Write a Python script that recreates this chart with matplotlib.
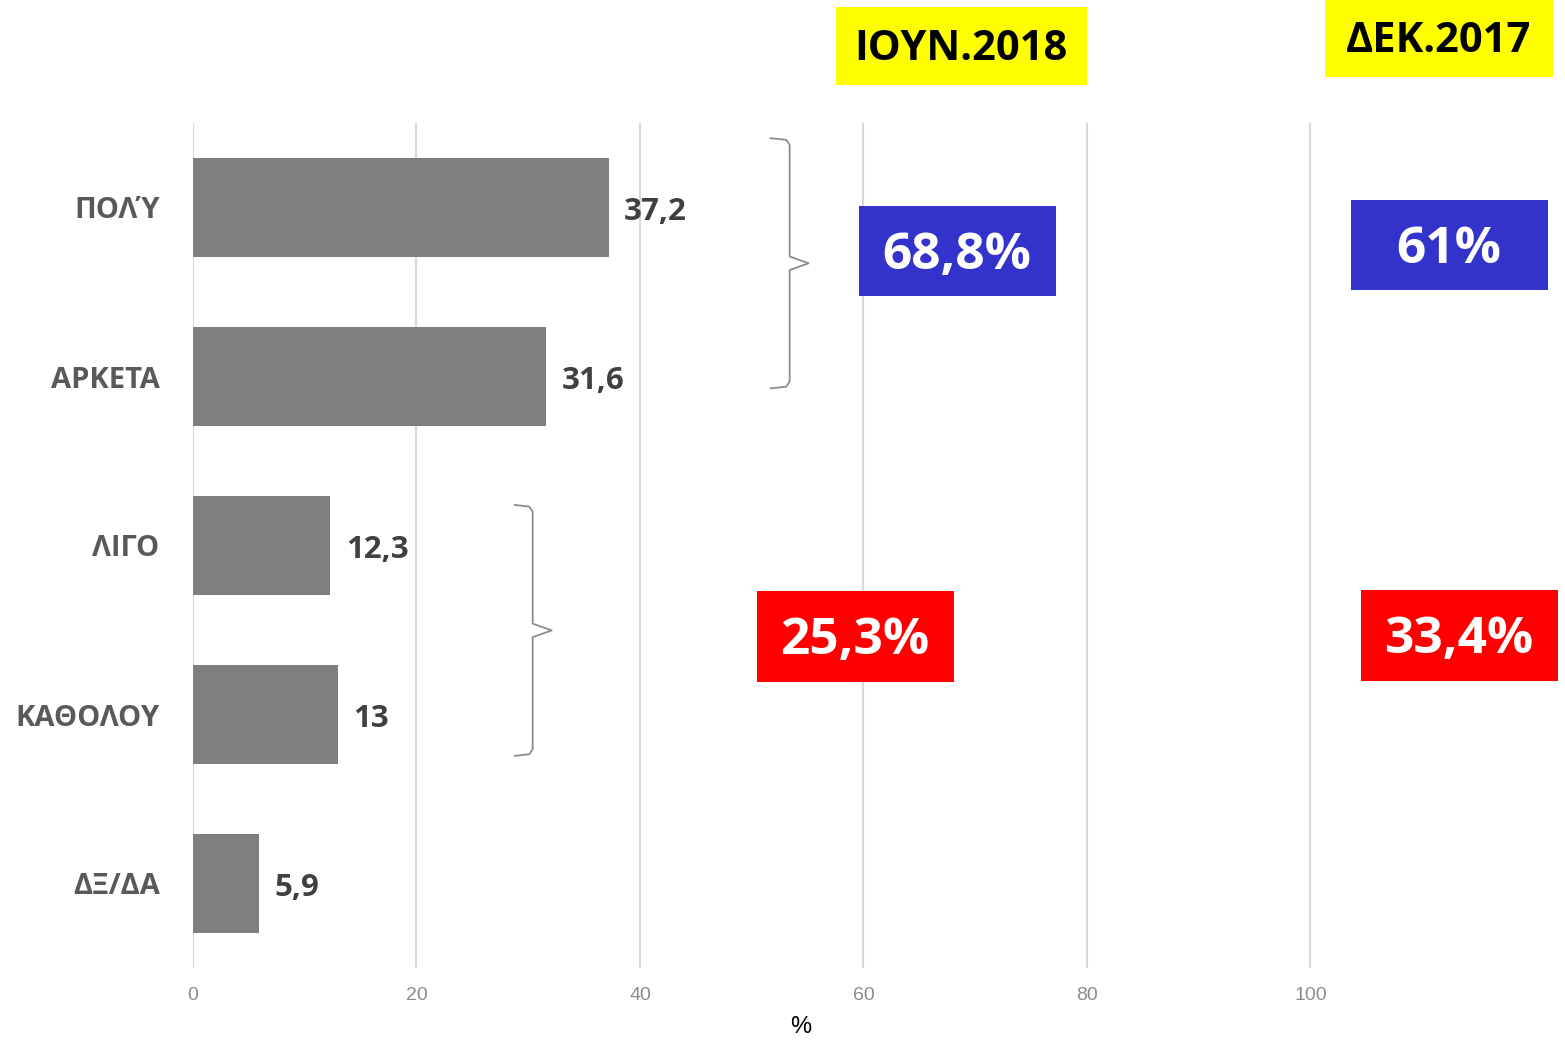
import matplotlib
matplotlib.use("Agg")
import matplotlib.pyplot as plt
from matplotlib.patches import Rectangle

# Data
categories = ["ΠΟΛΎ", "ΑΡΚΕΤΑ", "ΛΙΓΟ", "ΚΑΘΟΛΟΥ", "ΔΞ/ΔΑ"]
values = [37.2, 31.6, 12.3, 13, 5.9]
value_labels = ["37,2", "31,6", "12,3", "13", "5,9"]
x_ticks = [0, 20, 40, 60, 80, 100]

period_labels = ["ΙΟΥΝ.2018", "ΔΕΚ.2017"]
positive_totals = ["68,8%", "61%"]
negative_totals = ["25,3%", "33,4%"]

W, H = 1565, 1045
fig = plt.figure(figsize=(W / 100, H / 100), dpi=100)
ax = fig.add_axes([193 / W, 1 - 968 / H, (1545 - 193) / W, (968 - 123) / H])

main_font = ["Open Sans", "DejaVu Sans"]
narrow_font = ["Liberation Sans Narrow", "Liberation Sans", "DejaVu Sans"]

ypos = list(range(len(categories)))
bars = ax.barh(ypos, values, height=0.59, color="#7F7F7F", zorder=2)

ax.set_xlim(0, 121)
ax.set_ylim(len(categories) - 0.5, -0.5)
ax.set_xticks(x_ticks)
ax.set_xticklabels([str(t) for t in x_ticks], family=narrow_font,
                   fontsize=14, color="#8C8C8C")
ax.set_yticks(ypos)
ax.set_yticklabels(categories, family=main_font, fontsize=21,
                   fontweight="bold", color="#595959")
ax.tick_params(axis="x", length=0, pad=14)
ax.tick_params(axis="y", length=0, pad=24)
ax.grid(axis="x", color="#D9D9D9", linewidth=1.5, zorder=0)
for s in ax.spines.values():
    s.set_visible(False)

# value labels
for bar, lab in zip(bars, value_labels):
    ax.annotate(lab, (bar.get_width(), bar.get_y() + bar.get_height() / 2),
                xytext=(11, -3), textcoords="offset points",
                ha="left", va="center", family=main_font, fontsize=22.5,
                fontweight="bold", color="#404040")

fig.text(801 / W, 1 - 1027 / H, "%", family=narrow_font, fontsize=17,
         ha="center", va="center", color="black")


def brace(x_tip, x_line, x_point, y_top, y_bot):
    ymid = (y_top + y_bot) / 2
    d = 0.04
    xs = [x_tip, x_line - 0.3, x_line, x_line, x_point, x_line, x_line,
          x_line - 0.3, x_tip]
    ys = [y_top, y_top + 0.01, y_top + d, ymid - d, ymid, ymid + d,
          y_bot - d, y_bot - 0.01, y_bot]
    ax.plot(xs, ys, color="#8C8C8C", linewidth=1.3, zorder=3,
            solid_joinstyle="round", clip_on=False)


# brace over ΠΟΛΎ + ΑΡΚΕΤΑ and over ΛΙΓΟ + ΚΑΘΟΛΟΥ
brace(51.7, 53.4, 55.1, 0 - 0.41, 1 + 0.07)
brace(28.8, 30.4, 32.1, 2 - 0.24, 3 + 0.245)


def box(cx, cy, w, h, color, text, tcolor, size, dy):
    fig.patches.append(Rectangle(((cx - w / 2) / W, 1 - (cy + h / 2) / H),
                                 w / W, h / H, transform=fig.transFigure,
                                 facecolor=color, edgecolor="none", zorder=5))
    fig.text(cx / W, 1 - (cy + dy) / H, text, ha="center", va="center",
             family=main_font, fontsize=size, fontweight="bold",
             color=tcolor, zorder=6)


# period headers
box(961, 46, 251, 78, "#FFFF00", period_labels[0], "black", 30, 4)
box(1439, 38, 228, 77, "#FFFF00", period_labels[1], "black", 30, 3)

# totals
box(957, 251, 197, 90, "#3333CC", positive_totals[0], "white", 37, 5)
box(1449, 245, 197, 90, "#3333CC", positive_totals[1], "white", 37, 5)
box(855, 636, 197, 91, "#FF0000", negative_totals[0], "white", 37, 5)
box(1459, 635, 197, 91, "#FF0000", negative_totals[1], "white", 37, 5)

fig.savefig("out.png", dpi=100, facecolor="white")
